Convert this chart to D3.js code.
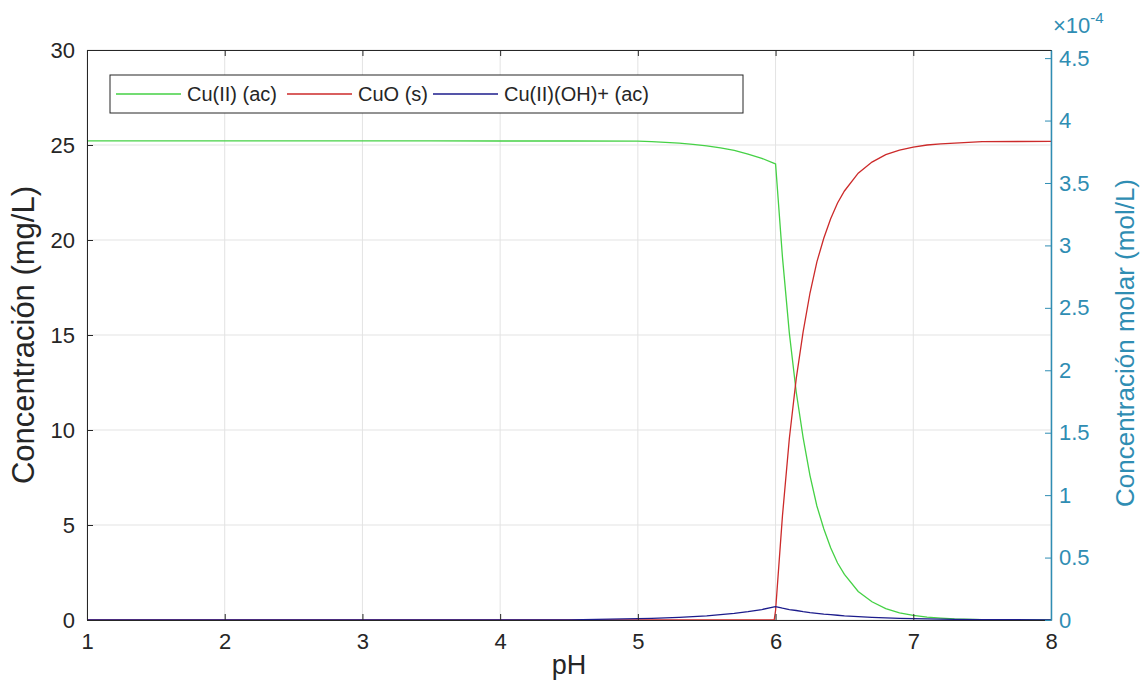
<!DOCTYPE html>
<html><head><meta charset="utf-8">
<script src="https://cdn.jsdelivr.net/npm/d3@7"></script>
<style>body{margin:0;background:#fff;} svg{display:block;font-family:"Liberation Sans",Arial,sans-serif;}</style>
</head><body><svg id="c" width="1143" height="690"></svg>
<script>
const pH = [1,1.5,2,2.5,3,3.5,4,4.5,5,5.1,5.2,5.3,5.4,5.5,5.6,5.7,5.8,5.9,5.99,6.0,6.05,6.1,6.15,6.2,6.25,6.3,6.35,6.4,6.45,6.5,6.6,6.7,6.8,6.9,7.0,7.1,7.2,7.3,7.5,8];
const cuII = [25.22,25.22,25.22,25.22,25.22,25.22,25.21,25.21,25.2,25.18,25.14,25.1,25.03,24.95,24.85,24.72,24.52,24.3,24.03,24.0,19.1,15.1,12.0,9.6,7.6,6.0,4.8,3.8,3.0,2.4,1.5,0.96,0.6,0.38,0.24,0.15,0.1,0.06,0.02,0.0];
const cuO = [0,0,0,0,0,0,0,0,0,0,0,0,0,0,0,0,0,0,0,0.5,5.48,9.55,12.7,15.16,17.21,18.85,20.09,21.12,21.95,22.58,23.52,24.1,24.49,24.73,24.89,25.0,25.06,25.1,25.18,25.19];
const cuOH = [0,0,0,0,0,0,0,0.01,0.07,0.09,0.11,0.14,0.18,0.22,0.28,0.35,0.44,0.55,0.69,0.7,0.62,0.55,0.5,0.44,0.39,0.35,0.31,0.28,0.25,0.22,0.18,0.14,0.11,0.09,0.07,0.055,0.045,0.035,0.02,0.007];
const seriesNames = ["Cu(II) (ac)","CuO (s)","Cu(II)(OH)+ (ac)"];
const seriesColors = ["#45d145","#cc2a2a","#1c1c8c"];
const xTicks = [1,2,3,4,5,6,7,8];
const yTicks = [0,5,10,15,20,25,30];
const y2Ticks = [0,0.5,1,1.5,2,2.5,3,3.5,4,4.5];
const y2TickLabels = ["0","0.5","1","1.5","2","2.5","3","3.5","4","4.5"];
const y2Max = 4.565;

const L=87,R=1051,T=50,B=620;
const svg=d3.select("#c");
const x=d3.scaleLinear().domain([1,8]).range([L,R]);
const y=d3.scaleLinear().domain([0,30]).range([B,T]);
const y2=d3.scaleLinear().domain([0,y2Max]).range([B,T]);
const rightColor="#2f8db3";

// grid
const g=svg.append("g");
g.selectAll(".gx").data(xTicks).join("line").attr("x1",d=>x(d)).attr("x2",d=>x(d)).attr("y1",T).attr("y2",B).attr("stroke","#e3e3e3");
g.selectAll(".gy").data(yTicks).join("line").attr("y1",d=>y(d)).attr("y2",d=>y(d)).attr("x1",L).attr("x2",R).attr("stroke","#e3e3e3");

// lines
const series=[cuII,cuO,cuOH];
const line=d3.line().x((d,i)=>x(pH[i])).y(d=>y(d));
series.forEach((s,k)=>{
  svg.append("path").datum(s).attr("d",line).attr("fill","none").attr("stroke",seriesColors[k]).attr("stroke-width",1.3);
});

// axes
const ax=svg.append("g").attr("transform",`translate(0,${B})`).call(d3.axisBottom(x).tickValues(xTicks).tickFormat(d3.format("d")).tickSizeInner(-6).tickSizeOuter(0).tickPadding(13));
const axT=svg.append("g").attr("transform",`translate(0,${T})`).call(d3.axisTop(x).tickValues(xTicks).tickSizeInner(-6).tickSizeOuter(0).tickFormat(""));
const ay=svg.append("g").attr("transform",`translate(${L},0)`).call(d3.axisLeft(y).tickValues(yTicks).tickSizeInner(-6).tickSizeOuter(0).tickPadding(12));
const ay2=svg.append("g").attr("transform",`translate(${R},0)`).call(d3.axisRight(y2).tickValues(y2Ticks).tickFormat((d,i)=>y2TickLabels[i]).tickSizeInner(-6).tickSizeOuter(0).tickPadding(8));
[ax,axT,ay].forEach(a=>{a.selectAll("path,line").attr("stroke","#262626");a.selectAll("text").attr("fill","#262626").style("font-size","22px");});
ay2.selectAll("path,line").attr("stroke",rightColor);
ay2.select("path").attr("stroke-width",1.5);
ay2.selectAll("text").attr("fill",rightColor).style("font-size","22px");

// labels
svg.append("text").attr("x",x(4.5)).attr("y",674).attr("text-anchor","middle").attr("fill","#262626").style("font-size","27px").text("pH");
svg.append("text").attr("transform",`translate(34,${(T+B)/2}) rotate(-90)`).attr("text-anchor","middle").attr("fill","#262626").style("font-size","31px").text("Concentración (mg/L)");
svg.append("text").attr("transform",`translate(1134,${(T+B)/2+8}) rotate(-90)`).attr("text-anchor","middle").attr("fill",rightColor).style("font-size","26px").text("Concentración molar (mol/L)");
const ex=svg.append("text").attr("x",1053).attr("y",33).attr("fill",rightColor).style("font-size","22px");
ex.append("tspan").text("×10");
ex.append("tspan").attr("dy",-10).style("font-size","15px").text("-4");

// legend
svg.append("rect").attr("x",110).attr("y",75).attr("width",633).attr("height",38).attr("fill","#fff").attr("stroke","#262626").attr("stroke-width",1);
const legX=[116,287,433];
seriesNames.forEach((n,k)=>{
  svg.append("line").attr("x1",legX[k]).attr("x2",legX[k]+65).attr("y1",94).attr("y2",94).attr("stroke",seriesColors[k]).attr("stroke-width",1.3);
  svg.append("text").attr("x",legX[k]+71).attr("y",101).attr("fill","#262626").style("font-size","20px").text(n);
});
</script></body></html>
